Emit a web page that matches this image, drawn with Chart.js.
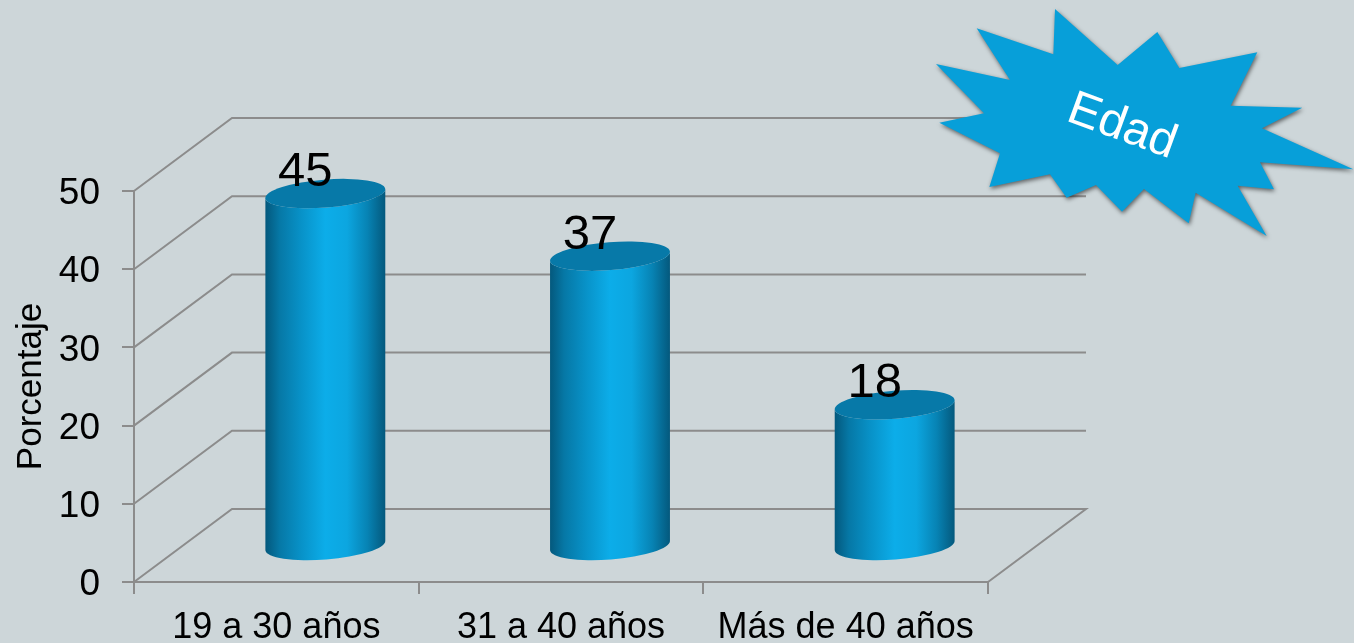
<!DOCTYPE html>
<html lang="es">
<head>
<meta charset="utf-8">
<title>Edad</title>
<style>
html,body{margin:0;padding:0;background:#cdd6d9;overflow:hidden}
canvas{display:block}
</style>
<script src="https://cdn.jsdelivr.net/npm/chart.js@4/dist/chart.umd.min.js"></script>
</head>
<body>
<canvas id="c" width="1354" height="643"></canvas>
<script>
const categories = ["19 a 30 años", "31 a 40 años", "Más de 40 años"];
const seriesValues = [45, 37, 18];
const axisTitle = "Porcentaje";
const badgeText = "Edad";
const yTicks = [0, 10, 20, 30, 40, 50];

const FONT = '"Liberation Sans", Arial, sans-serif';
const GRID = '#8c8c8c';
const DEPTH_X = 98, DEPTH_Y = 73;
const STAR = [[405,27],[593,195],[712,96],[778,204],[1012,157],[932,317],[1147,323],[1026,385],[1300,508],[1020,487],[1062,568],[953,557],[1040,708],[827,578],[806,670],[672,567],[606,635],[528,555],[440,593],[390,523],[208,561],[240,460],[58,368],[192,340],[48,192],[270,240],[170,85],[400,163]];

const walls = {
  id: 'walls',
  beforeDatasetsDraw(chart) {
    const {ctx, scales: {x, y}} = chart;
    const l = x.left, r = x.right;
    ctx.save();
    ctx.strokeStyle = GRID;
    ctx.lineWidth = 2;
    ctx.lineJoin = 'miter';
    yTicks.forEach(v => {
      const p = y.getPixelForValue(v);
      ctx.beginPath();
      ctx.moveTo(l, p);
      ctx.lineTo(l + DEPTH_X, p - DEPTH_Y);
      ctx.lineTo(r + DEPTH_X, p - DEPTH_Y);
      if (v === 0) ctx.lineTo(r, p);
      ctx.stroke();
    });
    ctx.restore();
  }
};

const cylinders = {
  id: 'cylinders',
  afterDatasetsDraw(chart) {
    const {ctx, scales: {y}} = chart;
    const meta = chart.getDatasetMeta(0);
    const rot = -4.5 * Math.PI / 180;
    const base = y.getPixelForValue(0) - DEPTH_Y / 2;
    meta.data.forEach((bar, i) => {
      const cx = bar.x + DEPTH_X / 2;
      const top = bar.y - DEPTH_Y / 2;
      const rx = bar.width / 2, ry = 14;
      const g = ctx.createLinearGradient(cx - rx, 0, cx + rx, 0);
      g.addColorStop(0, '#04587c');
      g.addColorStop(0.12, '#0678a6');
      g.addColorStop(0.3, '#0892c8');
      g.addColorStop(0.5, '#0cade9');
      g.addColorStop(0.68, '#0ca6e0');
      g.addColorStop(0.85, '#0783b4');
      g.addColorStop(1, '#04587c');
      ctx.save();
      ctx.fillStyle = g;
      ctx.beginPath();
      ctx.ellipse(cx, base, rx, ry, rot, 0, Math.PI);
      ctx.ellipse(cx, top, rx, ry, rot, Math.PI, 0, true);
      ctx.closePath();
      ctx.fill();
      ctx.fillStyle = '#0779a8';
      ctx.beginPath();
      ctx.ellipse(cx, top, rx, ry, rot, 0, Math.PI * 2);
      ctx.fill();
      ctx.fillStyle = '#000';
      ctx.font = '49px ' + FONT;
      ctx.textAlign = 'center';
      ctx.textBaseline = 'middle';
      ctx.fillText(String(seriesValues[i]), bar.x + 29, top - 21);
      ctx.restore();
    });
  }
};

const badge = {
  id: 'badge',
  afterDraw(chart) {
    const {ctx} = chart;
    ctx.save();
    ctx.shadowColor = 'rgba(0,0,0,0.55)';
    ctx.shadowBlur = 4;
    ctx.shadowOffsetX = 1;
    ctx.shadowOffsetY = 2;
    ctx.fillStyle = '#079fd9';
    ctx.beginPath();
    STAR.forEach((p, i) => {
      const X = 920 + p[0] / 3, Y = p[1] / 3;
      if (i) ctx.lineTo(X, Y); else ctx.moveTo(X, Y);
    });
    ctx.closePath();
    ctx.fill();
    ctx.restore();
    ctx.save();
    ctx.translate(1122, 127);
    ctx.rotate(20 * Math.PI / 180);
    ctx.fillStyle = '#fff';
    ctx.font = '48px ' + FONT;
    ctx.textAlign = 'center';
    ctx.textBaseline = 'middle';
    ctx.fillText(badgeText, 0, 0);
    ctx.restore();
  }
};

new Chart(document.getElementById('c'), {
  type: 'bar',
  data: {
    labels: categories,
    datasets: [{
      data: seriesValues,
      backgroundColor: 'rgba(0,0,0,0)',
      borderWidth: 0,
      barPercentage: 0.4225,
      categoryPercentage: 1
    }]
  },
  options: {
    responsive: false,
    animation: false,
    layout: {padding: {top: 191, right: 366, left: 0, bottom: 0}},
    plugins: {legend: {display: false}, title: {display: false}, tooltip: {enabled: false}},
    scales: {
      x: {
        afterFit(s) { s.height = 61; },
        grid: {display: true, drawOnChartArea: false, drawTicks: true, tickLength: 12, color: GRID, lineWidth: 2, offset: true},
        border: {display: true, color: GRID, width: 2},
        ticks: {color: '#000', font: {family: FONT, size: 36}, padding: 12, maxRotation: 0, autoSkip: false}
      },
      y: {
        min: 0, max: 50,
        afterFit(s) { s.width = 134; },
        title: {display: true, text: axisTitle, color: '#000', font: {family: FONT, size: 35}, padding: {top: 10, bottom: 0}},
        grid: {display: true, drawOnChartArea: false, drawTicks: true, tickLength: 12, color: GRID, lineWidth: 2},
        border: {display: true, color: GRID, width: 2},
        ticks: {color: '#000', font: {family: FONT, size: 37}, padding: 22, stepSize: 10, labelOffset: 3}
      }
    }
  },
  plugins: [walls, cylinders, badge]
});
</script>
</body>
</html>
